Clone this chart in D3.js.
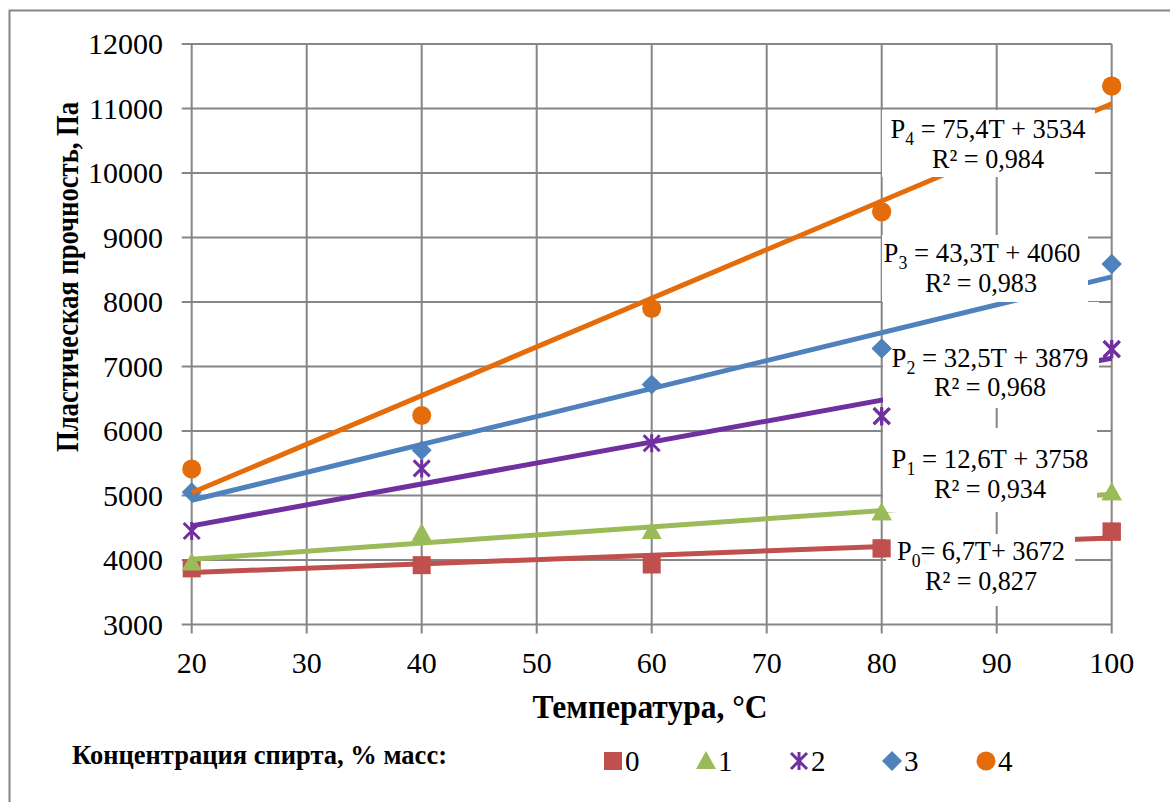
<!DOCTYPE html>
<html>
<head>
<meta charset="utf-8">
<script src="https://cdn.jsdelivr.net/npm/d3@7"></script>
<style>
  body { margin: 0; background: #fff; }
  svg { display: block; }
  svg text { font-family: 'Liberation Serif', 'Times New Roman', serif; fill: #000; }
</style>
</head>
<body>
<div id="chart"></div>
<script>
// Data
const temperatures = [20, 40, 60, 80, 100];
const seriesNames = ['0', '1', '2', '3', '4'];
const values0 = [3870, 3920, 3930, 4180, 4440];
const values1 = [3960, 4420, 4450, 4740, 5050];
const values2 = [4450, 5420, 5810, 6230, 7270];
const values3 = [5050, 5700, 6720, 7280, 8590];
const values4 = [5410, 6240, 7900, 9400, 11350];
const slopes = [6.7, 12.6, 32.5, 43.3, 75.4];
const intercepts = [3672, 3758, 3879, 4060, 3534];
const eqLabels = [
  ['P', '0', '= 6,7T+ 3672', 'R² = 0,827'],
  ['P', '1', ' = 12,6T + 3758', 'R² = 0,934'],
  ['P', '2', ' = 32,5T + 3879', 'R² = 0,968'],
  ['P', '3', ' = 43,3T + 4060', 'R² = 0,983'],
  ['P', '4', ' = 75,4T + 3534', 'R² = 0,984']
];
const xTicks = [20, 30, 40, 50, 60, 70, 80, 90, 100];
const yTicks = [3000, 4000, 5000, 6000, 7000, 8000, 9000, 10000, 11000, 12000];

const COLORS = ['#C0504D', '#9BBB59', '#7030A0', '#4F81BD', '#E46C0A'];
const GRID = '#868686';
const FONT = "'Liberation Serif', 'Times New Roman', serif";
const width = 1170;
const height = 802;

const svg = d3.select('#chart')
  .append('svg')
  .attr('width', width)
  .attr('height', height)
  .attr('font-family', FONT);

// chart border
svg.append('rect')
  .attr('x', 9.5).attr('y', 10.5)
  .attr('width', width).attr('height', height)
  .attr('fill', '#fff')
  .attr('stroke', GRID)
  .attr('stroke-width', 2);

const x = d3.scaleLinear().domain([20, 100]).range([191.7, 1111.7]);
const y = d3.scaleLinear().domain([3000, 12000]).range([624.5, 44]);

// gridlines
svg.append('g')
  .selectAll('line')
  .data(yTicks)
  .join('line')
  .attr('x1', x(20) - 10).attr('x2', x(100))
  .attr('y1', (d) => y(d)).attr('y2', (d) => y(d))
  .attr('stroke', GRID).attr('stroke-width', 2);

svg.append('g')
  .selectAll('line')
  .data(xTicks)
  .join('line')
  .attr('x1', (d) => x(d)).attr('x2', (d) => x(d))
  .attr('y1', y(12000)).attr('y2', y(3000) + 9)
  .attr('stroke', GRID).attr('stroke-width', 2);

// tick labels
svg.append('g')
  .selectAll('text')
  .data(yTicks)
  .join('text')
  .attr('x', 163)
  .attr('y', (d) => y(d) + 10)
  .attr('text-anchor', 'end')
  .style('font-size', '30px')
  .text((d) => d);

svg.append('g')
  .selectAll('text')
  .data(xTicks)
  .join('text')
  .attr('x', (d) => x(d))
  .attr('y', 673)
  .attr('text-anchor', 'middle')
  .style('font-size', '30px')
  .text((d) => d);

// axis titles
svg.append('text')
  .attr('transform', 'translate(78,277) rotate(-90)')
  .attr('text-anchor', 'middle')
  .attr('textLength', 350)
  .attr('lengthAdjust', 'spacingAndGlyphs')
  .style('font-size', '32px')
  .style('font-weight', 'bold')
  .text('Пластическая прочность, Па');

svg.append('text')
  .attr('x', 650)
  .attr('y', 718)
  .attr('text-anchor', 'middle')
  .attr('textLength', 235)
  .attr('lengthAdjust', 'spacingAndGlyphs')
  .style('font-size', '34px')
  .style('font-weight', 'bold')
  .text('Температура, °С');

// marker shapes
function drawMarker (g, i, cx, cy) {
  const c = COLORS[i];
  if (i === 0) {
    g.append('rect').attr('x', cx - 9).attr('y', cy - 9)
      .attr('width', 18).attr('height', 18).attr('fill', c);
  } else if (i === 1) {
    g.append('path')
      .attr('d', `M${cx},${cy - 10}L${cx + 10},${cy + 8}L${cx - 10},${cy + 8}Z`)
      .attr('fill', c);
  } else if (i === 2) {
    g.append('path')
      .attr('d', `M${cx - 8},${cy - 8}L${cx + 8},${cy + 8}M${cx + 8},${cy - 8}L${cx - 8},${cy + 8}M${cx},${cy - 9}L${cx},${cy + 9}`)
      .attr('stroke', c).attr('stroke-width', 3).attr('fill', 'none');
  } else if (i === 3) {
    g.append('path')
      .attr('d', `M${cx},${cy - 10}L${cx + 10},${cy}L${cx},${cy + 10}L${cx - 10},${cy}Z`)
      .attr('fill', c);
  } else {
    g.append('circle').attr('cx', cx).attr('cy', cy).attr('r', 9.5).attr('fill', c);
  }
}

const allValues = [values0, values1, values2, values3, values4];

// label boxes (white background, hide lines behind them)
const boxes = [
  { x0: 886, x1: 1075, y0: 534, y1: 606, c1: 981, c2: 981, b1: 560, b2: 590, w1: 168 },
  { x0: 883, x1: 1097, y0: 428, y1: 512, c1: 990, c2: 990, b1: 468, b2: 498, w1: 197 },
  { x0: 883, x1: 1099, y0: 302, y1: 408, c1: 990, c2: 990, b1: 367, b2: 396, w1: 197 },
  { x0: 882, x1: 1088, y0: 235, y1: 302, c1: 982, c2: 981, b1: 262, b2: 292, w1: 197 },
  { x0: 882, x1: 1095, y0: 110, y1: 177, c1: 988, c2: 988, b1: 138, b2: 168, w1: 195 }
];

allValues.forEach((vals, i) => {
  const g = svg.append('g');
  // trendline
  const line = d3.line().x((t) => x(t)).y((t) => y(slopes[i] * t + intercepts[i]));
  g.append('path')
    .attr('d', line([20, 100]))
    .attr('stroke', COLORS[i])
    .attr('stroke-width', 5)
    .attr('fill', 'none');

  // markers
  vals.forEach((v, k) => drawMarker(g, i, x(temperatures[k]), y(v)));

  // equation box
  const b = boxes[i];
  g.append('rect')
    .attr('x', b.x0).attr('y', b.y0)
    .attr('width', b.x1 - b.x0).attr('height', b.y1 - b.y0)
    .attr('fill', '#fff');
  const t1 = g.append('text')
    .attr('x', b.c1).attr('y', b.b1)
    .attr('text-anchor', 'middle')
    .attr('textLength', b.w1)
    .attr('lengthAdjust', 'spacingAndGlyphs')
    .style('font-size', '27px');
  t1.append('tspan').text(eqLabels[i][0]);
  t1.append('tspan').attr('dy', 7).style('font-size', '18px').text(eqLabels[i][1]);
  t1.append('tspan').attr('dy', -7).text(eqLabels[i][2]);
  g.append('text')
    .attr('x', b.c2).attr('y', b.b2)
    .attr('text-anchor', 'middle')
    .attr('textLength', 112)
    .attr('lengthAdjust', 'spacingAndGlyphs')
    .style('font-size', '27px')
    .text(eqLabels[i][3]);
});

// markers that sit on the box edges at T = 80 and T = 100 stay visible
const edgeMarkers = svg.append('g');
allValues.forEach((vals, i) => {
  [3, 4].forEach((k) => drawMarker(edgeMarkers, i, x(temperatures[k]), y(vals[k])));
});

// legend
svg.append('text')
  .attr('x', 72)
  .attr('y', 764)
  .attr('textLength', 375)
  .attr('lengthAdjust', 'spacingAndGlyphs')
  .style('font-size', '28px')
  .style('font-weight', 'bold')
  .text('Концентрация спирта, % масс:');

const legendX = [613, 706, 799, 892, 986];
const legend = svg.append('g');
seriesNames.forEach((name, i) => {
  drawMarker(legend, i, legendX[i], 761);
  legend.append('text')
    .attr('x', legendX[i] + 12)
    .attr('y', 771)
    .style('font-size', '29px')
    .text(name);
});
</script>
</body>
</html>
